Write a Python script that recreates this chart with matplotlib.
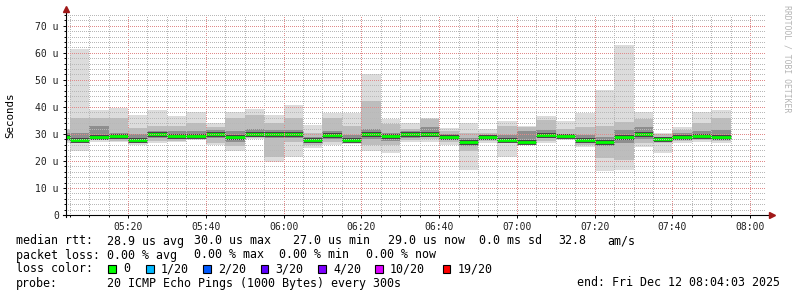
import matplotlib
matplotlib.use("Agg")
import matplotlib.pyplot as plt
from matplotlib.patches import Rectangle
from matplotlib.ticker import MultipleLocator, FuncFormatter

# ---------------- data (values in microseconds, times as HH:MM bar end) -------------
end_times = ["05:05", "05:10", "05:15", "05:20", "05:25", "05:30", "05:35", "05:40",
             "05:45", "05:50", "05:55", "06:00", "06:05", "06:10", "06:15", "06:20",
             "06:25", "06:30", "06:35", "06:40", "06:45", "06:50", "06:55", "07:00",
             "07:05", "07:10", "07:15", "07:20", "07:25", "07:30", "07:35", "07:40",
             "07:45", "07:50", "07:55"]
ping_min = [26.7, 23.8, 27.0, 27.0, 25.9, 26.5, 27.0, 27.8, 25.9, 23.8, 28.0, 19.5,
            21.6, 24.7, 25.8, 26.3, 23.8, 23.1, 27.0, 27.0, 26.0, 16.5, 26.5, 21.4,
            26.0, 26.7, 27.7, 25.0, 16.3, 16.7, 25.0, 23.0, 26.8, 27.0, 26.8]
ping_lo_mid = [27.5, 26.5, 27.6, 27.5, 26.8, 27.5, 27.5, 28.0, 26.8, 25.5, 28.5, 21.5,
               27.0, 26.0, 27.0, 27.0, 26.0, 26.0, 27.8, 28.0, 27.0, 23.5, 27.2, 27.0,
               26.3, 27.5, 28.0, 26.0, 21.0, 20.5, 26.5, 26.5, 27.5, 27.8, 27.5]
ping_lo_dark = [28.2, 27.2, 28.2, 28.0, 27.3, 28.5, 28.0, 28.4, 28.5, 27.0, 29.0, 28.5,
                28.5, 27.0, 28.0, 27.4, 28.0, 27.5, 28.5, 28.8, 28.0, 25.5, 27.8, 27.5,
                26.5, 28.5, 28.4, 27.0, 25.5, 26.5, 28.0, 27.3, 28.2, 28.4, 28.3]
median = [29.0, 27.9, 28.9, 29.2, 27.8, 29.8, 29.2, 29.2, 30.0, 29.0, 30.0, 30.0,
          30.0, 27.9, 29.5, 27.9, 29.8, 29.1, 30.0, 30.0, 29.0, 27.0, 28.7, 27.8,
          27.0, 29.6, 29.1, 27.8, 27.0, 29.0, 30.0, 28.0, 29.0, 29.1, 29.0]
ping_hi_dark = [30.5, 30.5, 32.8, 30.5, 30.0, 31.0, 31.0, 31.0, 31.5, 31.0, 32.0, 31.5,
                31.5, 29.0, 31.0, 29.5, 32.0, 30.5, 31.0, 32.5, 30.0, 28.5, 29.5, 29.5,
                31.0, 31.5, 30.0, 29.5, 29.0, 31.5, 32.5, 29.0, 30.5, 31.0, 31.5]
ping_hi_mid = [31.5, 35.8, 35.8, 36.0, 32.2, 33.0, 33.0, 34.0, 32.5, 35.8, 37.0, 34.0,
               35.8, 30.5, 35.8, 33.0, 42.0, 33.5, 32.0, 35.5, 31.0, 30.5, 30.5, 33.0,
               32.5, 35.0, 32.0, 32.5, 33.0, 34.5, 35.5, 29.8, 31.5, 34.0, 35.8]
ping_max = [32.0, 61.5, 39.0, 39.7, 37.0, 39.0, 36.7, 38.0, 34.2, 38.0, 39.1, 37.0,
            40.7, 33.3, 37.9, 37.9, 52.3, 35.6, 34.0, 36.0, 32.1, 34.0, 31.8, 34.9,
            33.0, 36.7, 34.9, 37.9, 46.3, 63.0, 38.2, 30.2, 32.7, 38.0, 39.0]
step_minutes = 5
x_tick_labels = ["05:20", "05:40", "06:00", "06:20", "06:40", "07:00", "07:20", "07:40", "08:00"]
loss_labels = ["0", "1/20", "2/20", "3/20", "4/20", "10/20", "19/20"]
loss_colors = ["#00ff00", "#00b8ff", "#0059ff", "#5e00ff", "#7e00ff", "#dd00ff", "#ff0000"]

# ---------------- figure ----------------
MONO = "DejaVu Sans Mono"
plt.rcParams["font.family"] = [MONO]
W, H = 797, 297
fig = plt.figure(figsize=(W / 100, H / 100), dpi=100)
fig.patch.set_facecolor("white")

def tomin(s):
    h, m = s.split(":")
    return (int(h) - 5) * 60 + int(m)

ends = [tomin(t) for t in end_times]
starts = [e - step_minutes for e in ends]

ax = fig.add_axes([66 / W, (H - 215) / H, 700 / W, 200 / H])
ax.set_facecolor("white")
ax.set_xlim(4.05, 184.05)
ax.set_ylim(0, 74)

layers = [(ping_min, ping_max, "#dcdcdc"),
          (ping_lo_mid, ping_hi_mid, "#bdbdbd"),
          (ping_lo_dark, ping_hi_dark, "#8e8e8e")]
for lo, hi, col in layers:
    ax.bar(starts, [h - l for l, h in zip(lo, hi)], bottom=lo, width=step_minutes,
           align="edge", color=col, linewidth=0, zorder=1)

ax.hlines(median, starts, ends, color="#3a3a3a", linewidth=3.4, zorder=2)
ax.hlines(median, starts, ends, color=loss_colors[0], linewidth=2.0, zorder=2.2)

# grid (dotted, drawn over the smoke like rrdtool)
ax.yaxis.set_major_locator(MultipleLocator(10))
ax.yaxis.set_minor_locator(MultipleLocator(2))
ax.xaxis.set_minor_locator(MultipleLocator(5))
ax.set_axisbelow(False)
ax.grid(which="minor", color="#b8b8b8", linestyle=(0, (1, 2)), linewidth=0.72,
        antialiased=False, zorder=3)
ax.grid(which="major", color="#e08a8a", linestyle=(0, (1, 2)), linewidth=0.72,
        antialiased=False, zorder=3)

ax.yaxis.set_major_formatter(FuncFormatter(lambda v, p: "0" if v == 0 else f"{int(v)} u"))
x_major_pos = [tomin(t) for t in x_tick_labels]
ax.set_xticks(x_major_pos)
ax.set_xticklabels(x_tick_labels)
ax.tick_params(which="major", length=2.2, width=0.7, color="black", labelsize=7,
               pad=3, labelcolor="#202020")
ax.tick_params(which="minor", length=1.4, width=0.7, color="black")

for s in ax.spines.values():
    s.set_visible(False)

# axes with arrowheads
arrow_col = "#a01818"
ax.plot([0, 0], [-0.01, 1.02], transform=ax.transAxes, color="black", lw=0.8,
        clip_on=False, zorder=5)
ax.plot([-0.004, 1.005], [0, 0], transform=ax.transAxes, color="black", lw=0.8,
        clip_on=False, zorder=5)
ax.plot([0], [1.03], marker="^", markersize=4, color=arrow_col, transform=ax.transAxes,
        clip_on=False, zorder=6)
ax.plot([1.008], [0], marker=">", markersize=4, color=arrow_col, transform=ax.transAxes,
        clip_on=False, zorder=6)

def fx(x):
    return x / W

def fy(y):
    return 1 - y / H

fig.text(fx(10), fy(115), "Seconds", rotation=90, ha="center", va="center",
         fontsize=7.8, color="black")
fig.text(fx(787.5), fy(5), "RRDTOOL / TOBI OETIKER", rotation=270, ha="center",
         va="top", fontsize=5.9, color="#b4b4b4")

LFS = 8.4
def lt(x, y, s, ha="left"):
    fig.text(fx(x), fy(y), s, ha=ha, va="center", fontsize=LFS, color="black")

# row 1
lt(16, 241, "median rtt:")
lt(107.3, 241, "28.9 us avg")
lt(194, 241, "30.0 us max")
lt(292.7, 241, "27.0 us min")
lt(387.7, 241, "29.0 us now")
lt(479.3, 241, "0.0 ms sd")
lt(558.3, 241, "32.8")
lt(607.3, 241, "am/s")
# row 2
lt(16, 255, "packet loss:")
lt(107.3, 255, "0.00 % avg")
lt(194, 255, "0.00 % max")
lt(279.3, 255, "0.00 % min")
lt(366, 255, "0.00 % now")
# row 3
lt(16, 269, "loss color:")
sq_x = [108.3, 146, 203.3, 260.7, 318.3, 375, 442.7]
for x0, lab, col in zip(sq_x, loss_labels, loss_colors):
    fig.add_artist(Rectangle((fx(x0), fy(273)), 7.5 / W, 8 / H, transform=fig.transFigure,
                             facecolor=col, edgecolor="black", linewidth=0.8))
    lt(x0 + 15, 269, lab)
# row 4
lt(16, 283, "probe:")
lt(107.3, 283, "20 ICMP Echo Pings (1000 Bytes) every 300s")
lt(780, 283, "end: Fri Dec 12 08:04:03 2025", ha="right")

fig.savefig("out.png", dpi=100, facecolor="white")
